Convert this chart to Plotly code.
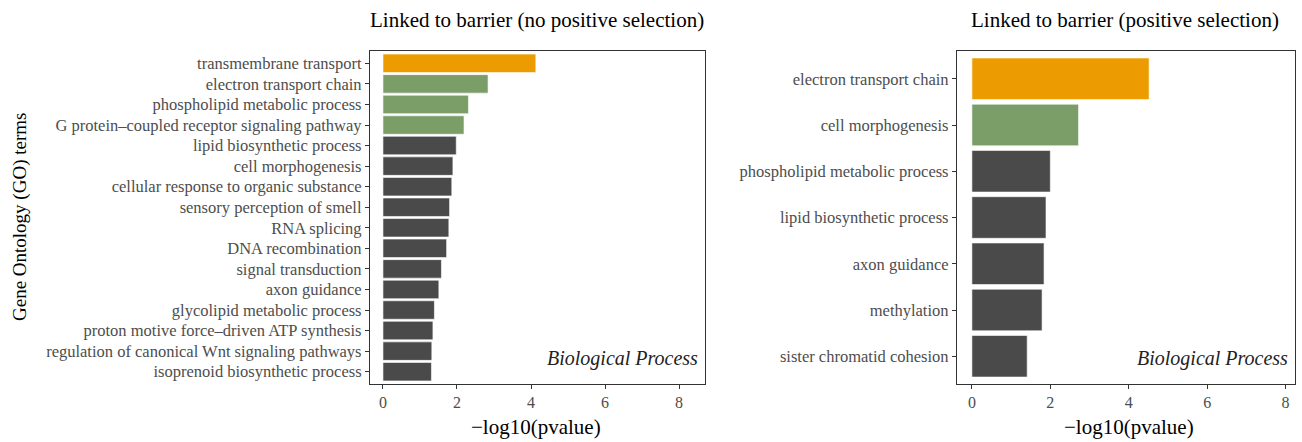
import plotly.graph_objects as go

# GO enrichment, terms linked to the barrier without positive selection
terms_nps = [
    "transmembrane transport",
    "electron transport chain",
    "phospholipid metabolic process",
    "G protein\u2013coupled receptor signaling pathway",
    "lipid biosynthetic process",
    "cell morphogenesis",
    "cellular response to organic substance",
    "sensory perception of smell",
    "RNA splicing",
    "DNA recombination",
    "signal transduction",
    "axon guidance",
    "glycolipid metabolic process",
    "proton motive force\u2013driven ATP synthesis",
    "regulation of canonical Wnt signaling pathways",
    "isoprenoid biosynthetic process",
]
logp_nps = [4.13, 2.84, 2.31, 2.19, 1.98, 1.89, 1.86, 1.80, 1.78, 1.72,
            1.58, 1.51, 1.39, 1.35, 1.32, 1.31]
group_nps = ["top", "high", "high", "high"] + ["other"] * 12

# GO enrichment, terms linked to the barrier with positive selection
terms_ps = [
    "electron transport chain",
    "cell morphogenesis",
    "phospholipid metabolic process",
    "lipid biosynthetic process",
    "axon guidance",
    "methylation",
    "sister chromatid cohesion",
]
logp_ps = [4.52, 2.72, 2.00, 1.89, 1.84, 1.79, 1.41]
group_ps = ["top", "high"] + ["other"] * 5

x_ticks = [0, 2, 4, 6, 8]

palette = {"top": "#EC9C00", "high": "#7B9E69", "other": "#4A4A4A"}
SERIF = "Liberation Serif, Times New Roman, serif"
FRAME = "#333333"
TICKTXT = "#4D4D4D"
W, H = 1302, 442

fig = go.Figure()

fig.add_trace(go.Bar(
    x=logp_nps, y=terms_nps, orientation="h",
    marker=dict(color=[palette[g] for g in group_nps],
                line=dict(color="white", width=0.6)),
    width=0.9, xaxis="x", yaxis="y", showlegend=False,
))
fig.add_trace(go.Bar(
    x=logp_ps, y=terms_ps, orientation="h",
    marker=dict(color=[palette[g] for g in group_ps],
                line=dict(color="white", width=0.6)),
    width=0.9, xaxis="x2", yaxis="y2", showlegend=False,
))

y_top, y_bot = 1 - 51 / H, 1 - 384 / H
dom1 = [370 / W, 705 / W]
dom2 = [957 / W, 1295 / W]

xcommon = dict(
    tickvals=x_ticks, ticks="outside", ticklen=4, tickwidth=1.4,
    tickcolor=FRAME, showline=True, linecolor=FRAME, linewidth=1.3,
    mirror=True, showgrid=False, zeroline=False,
    tickfont=dict(family=SERIF, size=16, color=TICKTXT),
)
ycommon = dict(
    type="category", ticks="outside", ticklen=4, tickwidth=1.4,
    tickcolor=FRAME, showline=True, linecolor=FRAME, linewidth=1.3,
    mirror=True, showgrid=False, zeroline=False,
    tickfont=dict(family=SERIF, size=16.5, color=TICKTXT),
)


def paper_text(text, px, py, size, angle=0, color="black"):
    return dict(text=text, x=px / W, y=1 - py / H, xref="paper",
                yref="paper", showarrow=False, xanchor="center",
                yanchor="middle", textangle=angle,
                font=dict(family=SERIF, size=size, color=color))


fig.update_layout(
    width=W, height=H,
    margin=dict(l=0, r=0, t=0, b=0),
    paper_bgcolor="white", plot_bgcolor="white",
    bargap=0.1,
    xaxis=dict(domain=dom1, anchor="y", range=[-0.35, 8.7], **xcommon),
    yaxis=dict(domain=[y_bot, y_top], anchor="x",
               range=[len(terms_nps) - 0.4, -0.6], **ycommon),
    xaxis2=dict(domain=dom2, anchor="y2", range=[-0.38, 8.24], **xcommon),
    yaxis2=dict(domain=[y_bot, y_top], anchor="x2",
                range=[len(terms_ps) - 0.4, -0.6], **ycommon),
    annotations=[
        paper_text("Linked to barrier (no positive selection)", 537, 20, 21),
        paper_text("Linked to barrier (positive selection)", 1125, 20, 21),
        paper_text("\u2212log10(pvalue)", 536, 427, 21),
        paper_text("\u2212log10(pvalue)", 1129, 427, 21),
        paper_text("Gene Ontology (GO) terms", 20, 217, 19, angle=-90),
        dict(text="<i>Biological Process</i>", x=0.985, y=0.035,
             xref="x domain", yref="y domain", showarrow=False,
             xanchor="right", yanchor="bottom",
             font=dict(family=SERIF, size=20, color="#222222")),
        dict(text="<i>Biological Process</i>", x=0.985, y=0.035,
             xref="x2 domain", yref="y2 domain", showarrow=False,
             xanchor="right", yanchor="bottom",
             font=dict(family=SERIF, size=20, color="#222222")),
    ],
)

fig.write_html("out.html")
